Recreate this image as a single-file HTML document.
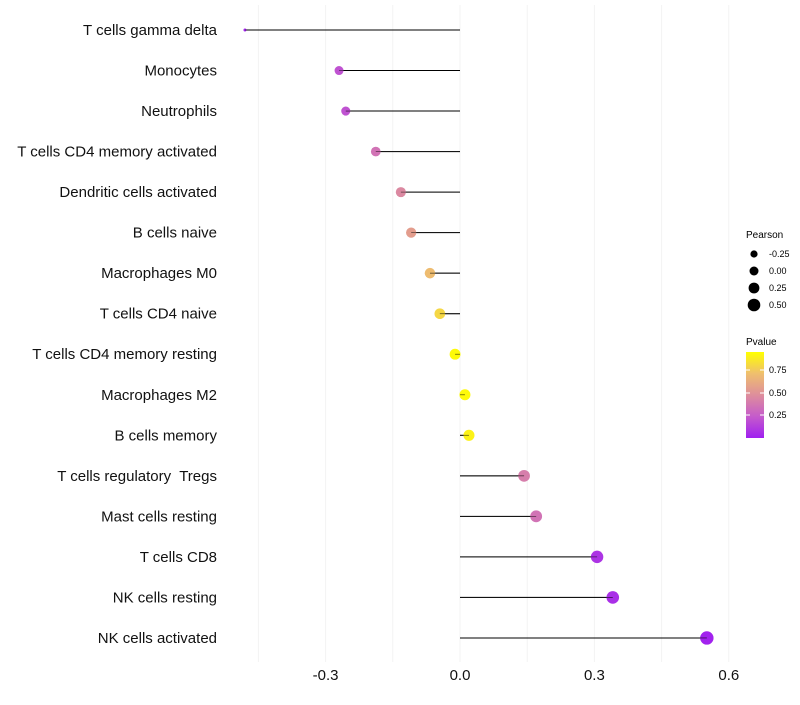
<!DOCTYPE html>
<html><head><meta charset="utf-8"><style>
body{margin:0;background:#fff;font-family:"Liberation Sans",sans-serif}
</style></head><body>
<svg id="c" width="800" height="700" xmlns="http://www.w3.org/2000/svg">
<defs><linearGradient id="pg" x1="0" y1="1" x2="0" y2="0">
<stop offset="0" stop-color="#A020F0"/><stop offset="0.25" stop-color="#C55BCB"/><stop offset="0.5" stop-color="#DE8E9C"/><stop offset="0.75" stop-color="#EFBF6E"/><stop offset="1" stop-color="#FFFF00"/></linearGradient></defs>
<g id="grid"></g><g id="marks"></g><g id="labels"></g>
<g font-size="9">
<text x="746" y="238" font-size="10">Pearson</text>
<circle cx="754" cy="254" r="3.6"/><text x="769" y="257">-0.25</text>
<circle cx="754" cy="271" r="4.5"/><text x="769" y="274">0.00</text>
<circle cx="754" cy="288" r="5.4"/><text x="769" y="291">0.25</text>
<circle cx="754" cy="305" r="6.3"/><text x="769" y="308">0.50</text>
</g>
<g font-size="9">
<text x="746" y="345" font-size="10">Pvalue</text>
<rect x="746" y="352" width="18" height="86" fill="url(#pg)"/>
<line x1="746" x2="750" y1="370" y2="370" stroke="#fff"/><line x1="760" x2="764" y1="370" y2="370" stroke="#fff"/><text x="769" y="373">0.75</text>
<line x1="746" x2="750" y1="393" y2="393" stroke="#fff"/><line x1="760" x2="764" y1="393" y2="393" stroke="#fff"/><text x="769" y="396">0.50</text>
<line x1="746" x2="750" y1="415" y2="415" stroke="#fff"/><line x1="760" x2="764" y1="415" y2="415" stroke="#fff"/><text x="769" y="418">0.25</text>
</g>
</svg>
<script>
const categories=["T cells gamma delta","Monocytes","Neutrophils","T cells CD4 memory activated","Dendritic cells activated","B cells naive","Macrophages M0","T cells CD4 naive","T cells CD4 memory resting","Macrophages M2","B cells memory","T cells regulatory  Tregs","Mast cells resting","T cells CD8","NK cells resting","NK cells activated"];
const pearson=[-0.48,-0.27,-0.255,-0.188,-0.132,-0.109,-0.067,-0.045,-0.011,0.011,0.02,0.143,0.17,0.306,0.341,0.551];
const pvalue=[0.02,0.2,0.2,0.35,0.45,0.55,0.7,0.8,0.93,0.93,0.9,0.4,0.35,0.08,0.06,0.01];
const xticks=[-0.3,0,0.3,0.6];
const xtickLabels=["-0.3","0.0","0.3","0.6"];
const NS="http://www.w3.org/2000/svg";
const x=v=>460+v*448;
const y=i=>30+i*40.53;
const stops=[[0,[160,32,240]],[0.25,[197,91,203]],[0.5,[222,142,156]],[0.75,[239,191,110]],[1,[255,255,0]]];
function col(p){let t=Math.max(0,Math.min(1,p/0.95));for(let k=1;k<stops.length;k++){if(t<=stops[k][0]){const a=stops[k-1],b=stops[k];const f=(t-a[0])/(b[0]-a[0]);return "rgb("+a[1].map((c,j)=>Math.round(c+(b[1][j]-c)*f)).join(",")+")";}}return "rgb(255,255,0)";}
const pmin=Math.min(...pearson),pmax=Math.max(...pearson);
const rad=v=>1.5+5.2*Math.pow((v-pmin)/(pmax-pmin),0.35);
function mk(t,a,p){const e=document.createElementNS(NS,t);for(const k in a)e.setAttribute(k,a[k]);p.appendChild(e);return e;}
const G=document.getElementById('grid'),M=document.getElementById('marks'),L=document.getElementById('labels');
[-0.45,-0.3,-0.15,0,0.15,0.3,0.45,0.6].forEach(v=>{const l=mk('line',{x1:x(v),x2:x(v),y1:5,y2:662,stroke:'#f3f3f3','stroke-width':1},G);

});
xticks.forEach((v,i)=>{const t=mk('text',{x:x(v),y:680,'text-anchor':'middle','font-size':15,fill:'#111'},L);t.textContent=xtickLabels[i];

});
categories.forEach((c,i)=>{
const t=mk('text',{x:217,y:y(i)+5,'text-anchor':'end','font-size':15,fill:'#111',style:'white-space:pre'},L);t.textContent=c;


const s=mk('line',{x1:x(0),x2:x(pearson[i]),y1:y(i),y2:y(i),stroke:'#000','stroke-width':1},M);


const d=mk('circle',{cx:x(pearson[i]),cy:y(i),r:rad(pearson[i]),fill:col(pvalue[i])},M);


const s2=mk('line',{x1:x(0),x2:x(pearson[i]),y1:y(i),y2:y(i),stroke:'#000','stroke-width':0.8,'stroke-opacity':0.6},M);


});
</script>
</body></html>
